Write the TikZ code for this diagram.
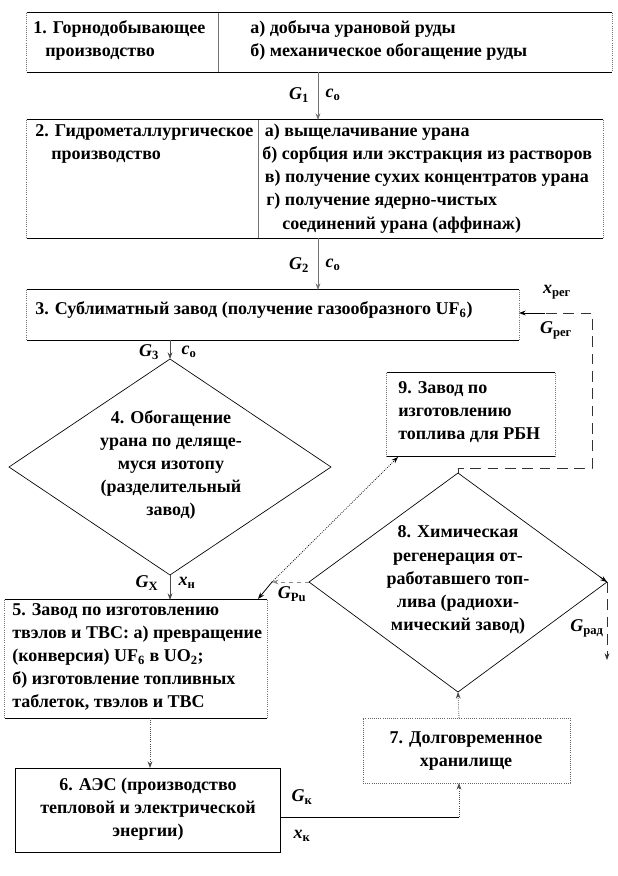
\documentclass[tikz,border=0pt]{standalone}
\usepackage{fontspec}
\setmainfont{Liberation Serif}
\usetikzlibrary{fit,arrows.meta}
\newcommand{\lb}[2]{\textbf{\textit{#1}}\textsubscript{\textbf{#2}}}
\newcommand{\wbox}[5]{%
  \coordinate (#1nw) at (#2,#3); \coordinate (#1se) at (#4,#5);
  \node[fit=(#1nw)(#1se),inner sep=0pt] (#1) {};
  \draw[hline] (#1.north west) -- (#1.north east) (#1.south west) -- (#1.south east);
  \draw[vline] (#1.north west) -- (#1.south west) (#1.north east) -- (#1.south east);}
\begin{document}
\begin{tikzpicture}[x=0.75pt,y=-0.75pt,
  hline/.style={line width=0.5pt,black},
  vline/.style={line width=0.6pt,black!55,densely dotted},
  txt/.style={font=\fontsize{13.5pt}{17.3pt}\selectfont\bfseries,inner sep=0pt},
  ltxt/.style={txt,anchor=north west,align=left},
  ctxt/.style={txt,align=center},
  lab/.style={font=\fontsize{13.5pt}{15pt}\selectfont,inner sep=0pt},
  tip/.style={-{Stealth[length=5pt,width=3.6pt]}},
  garr/.style={tip,black!55,line width=0.6pt},
  darr/.style={tip,densely dotted,black!70,line width=0.6pt},
  dsh/.style={dash pattern=on 8pt off 5pt,black!80,line width=0.6pt}]
\useasboundingbox (0,0) rectangle (618,876);
\fill[white] (0,0) rectangle (618,876);

% box 1
\wbox{b1}{27}{13}{612}{72}
\draw[black!55,line width=0.6pt] (218,13) -- (218,72);
\node[ltxt] (t1a) at (33,20) {1. Горнодобывающее\\\hspace{9pt}производство};
\node[ltxt] (t1b) at (250,20) {а) добыча урановой руды\\б) механическое обогащение руды};

% box 2
\wbox{b2}{27}{120}{603}{238}
\draw[black!55,line width=0.6pt] (258,120) -- (258,238);
\node[ltxt] (t2a) at (35,124) {2. Гидрометаллургическое\\\hspace{12pt}производство};
\node[ltxt] (t2b) at (262,124) {\hspace{2pt}а) выщелачивание урана\\б) сорбция или экстракция из растворов\\\hspace{2pt}в) получение сухих концентратов урана\\\hspace{3pt}г) получение ядерно-чистых\\\hspace{15pt}соединений урана (аффинаж)};

% box 3
\wbox{b3}{27}{290}{519}{340}
\node[ltxt] (t3) at (35,301) {3. Сублиматный завод (получение газообразного UF\textsubscript{6})};

% box 9
\wbox{b9}{387}{373}{555}{456}
\node[ltxt] (t9) at (398,381) {9. Завод по\\изготовлению\\топлива для РБН};

% box 5
\wbox{b5}{5}{600}{267}{718}
\node[ltxt] (t5) at (12,603) {5. Завод по изготовлению\\твэлов и ТВС: а) превращение\\(конверсия) UF\textsubscript{6} в UO\textsubscript{2};\\б) изготовление топливных\\таблеток, твэлов и ТВС};

% box 6
\draw[hline] (15,768) rectangle (280,852);
\node[fit={(15,768)(280,852)},inner sep=0pt] (b6) {};
\node[ctxt] (t6) at (148,809) {6. АЭС (производство\\тепловой и электрической\\энергии)};

% box 7
\node[fit={(363,718)(570,783)},inner sep=0pt,draw=black!60,densely dotted,line width=0.6pt] (b7) {};
\node[ctxt] (t7) at (466,751) {7. Долговременное\\хранилище};

% diamond 4
\coordinate (d4n) at (170,359); \coordinate (d4e) at (331,467);
\coordinate (d4s) at (170,575); \coordinate (d4w) at (9,467);
\draw[line width=0.5pt] (d4n) -- (d4e) -- (d4s) -- (d4w) -- cycle;
\node[ctxt] (t4) at (171,465) {4. Обогащение\\урана по деляще-\\муся изотопу\\(разделительный\\завод)};

% diamond 8
\coordinate (d8n) at (458,473); \coordinate (d8e) at (607,582);
\coordinate (d8s) at (458,692); \coordinate (d8w) at (309,582);
\draw[line width=0.5pt] (d8n) -- (d8e) -- (d8s) -- (d8w) -- cycle;
\node[ctxt] (t8) at (458,580) {8. Химическая\\регенерация от-\\работавшего топ-\\лива (радиохи-\\мический завод)};

% main flow arrows
\draw[garr] (318,72) -- (318,120);
\node[lab] (g1) at (299,95) {\lb{G}{1}};
\node[lab] (c1) at (333,95) {\lb{c}{о}};
\draw[garr] (318,238) -- (318,290);
\node[lab] (g2) at (299,265) {\lb{G}{2}};
\node[lab] (c2) at (333,265) {\lb{c}{о}};
\draw[tip,black!70,line width=0.6pt] (170,340) -- (d4n);
\node[lab] (g3) at (149,352) {\lb{G}{3}};
\node[lab] (c3) at (189,352) {\lb{c}{о}};
\draw[tip,black!70,line width=0.6pt] (d4s) -- (170,600);
\node[lab] (gx) at (147,583) {\lb{G}{Х}};
\node[lab] (xn) at (187,583) {\lb{x}{н}};

% 5 -> 6
\draw[darr] (150,718) -- (150,768);
% 6 -> 7
\coordinate (k1) at (459,817);
\draw[line width=0.6pt] (280,817) -- (k1);
\draw[darr] (k1) -- (459,783);
\node[lab] (gk) at (302,797) {\lb{G}{к}};
\node[lab] (xk) at (302,836) {\lb{x}{к}};
% 7 -> 8
\draw[darr] (459,718) -- (d8s);

% Pu branch
\coordinate (pu) at (272,582);
\draw[tip,black!45,dashed,line width=0.6pt] (d8w) -- (pu);
\draw[tip,line width=0.6pt] (pu) -- (258,599);
\draw[tip,densely dotted,line width=0.6pt] (pu) -- (398,457);
\node[lab] (gpu) at (292,594) {\lb{G}{Pu}};

% regeneration loop
\coordinate (r1) at (458,468); \coordinate (r2) at (592,468); \coordinate (r3) at (592,313);
\draw[dsh] (d8n) -- (r1) -- (r2) -- (r3) -- (545,313);
\draw[tip,line width=0.6pt] (545,313) -- (519,313);
\node[lab] (xr) at (557,292) {\lb{x}{рег}};
\node[lab] (gr) at (556,330) {\lb{G}{рег}};

% radioactive waste
\draw[tip,line width=0.6pt] (600,577) -- (d8e);
\draw[dsh,tip] (d8e) -- (607,660);
\node[lab] (grad) at (587,628) {\lb{G}{рад}};
\end{tikzpicture}
\end{document}
